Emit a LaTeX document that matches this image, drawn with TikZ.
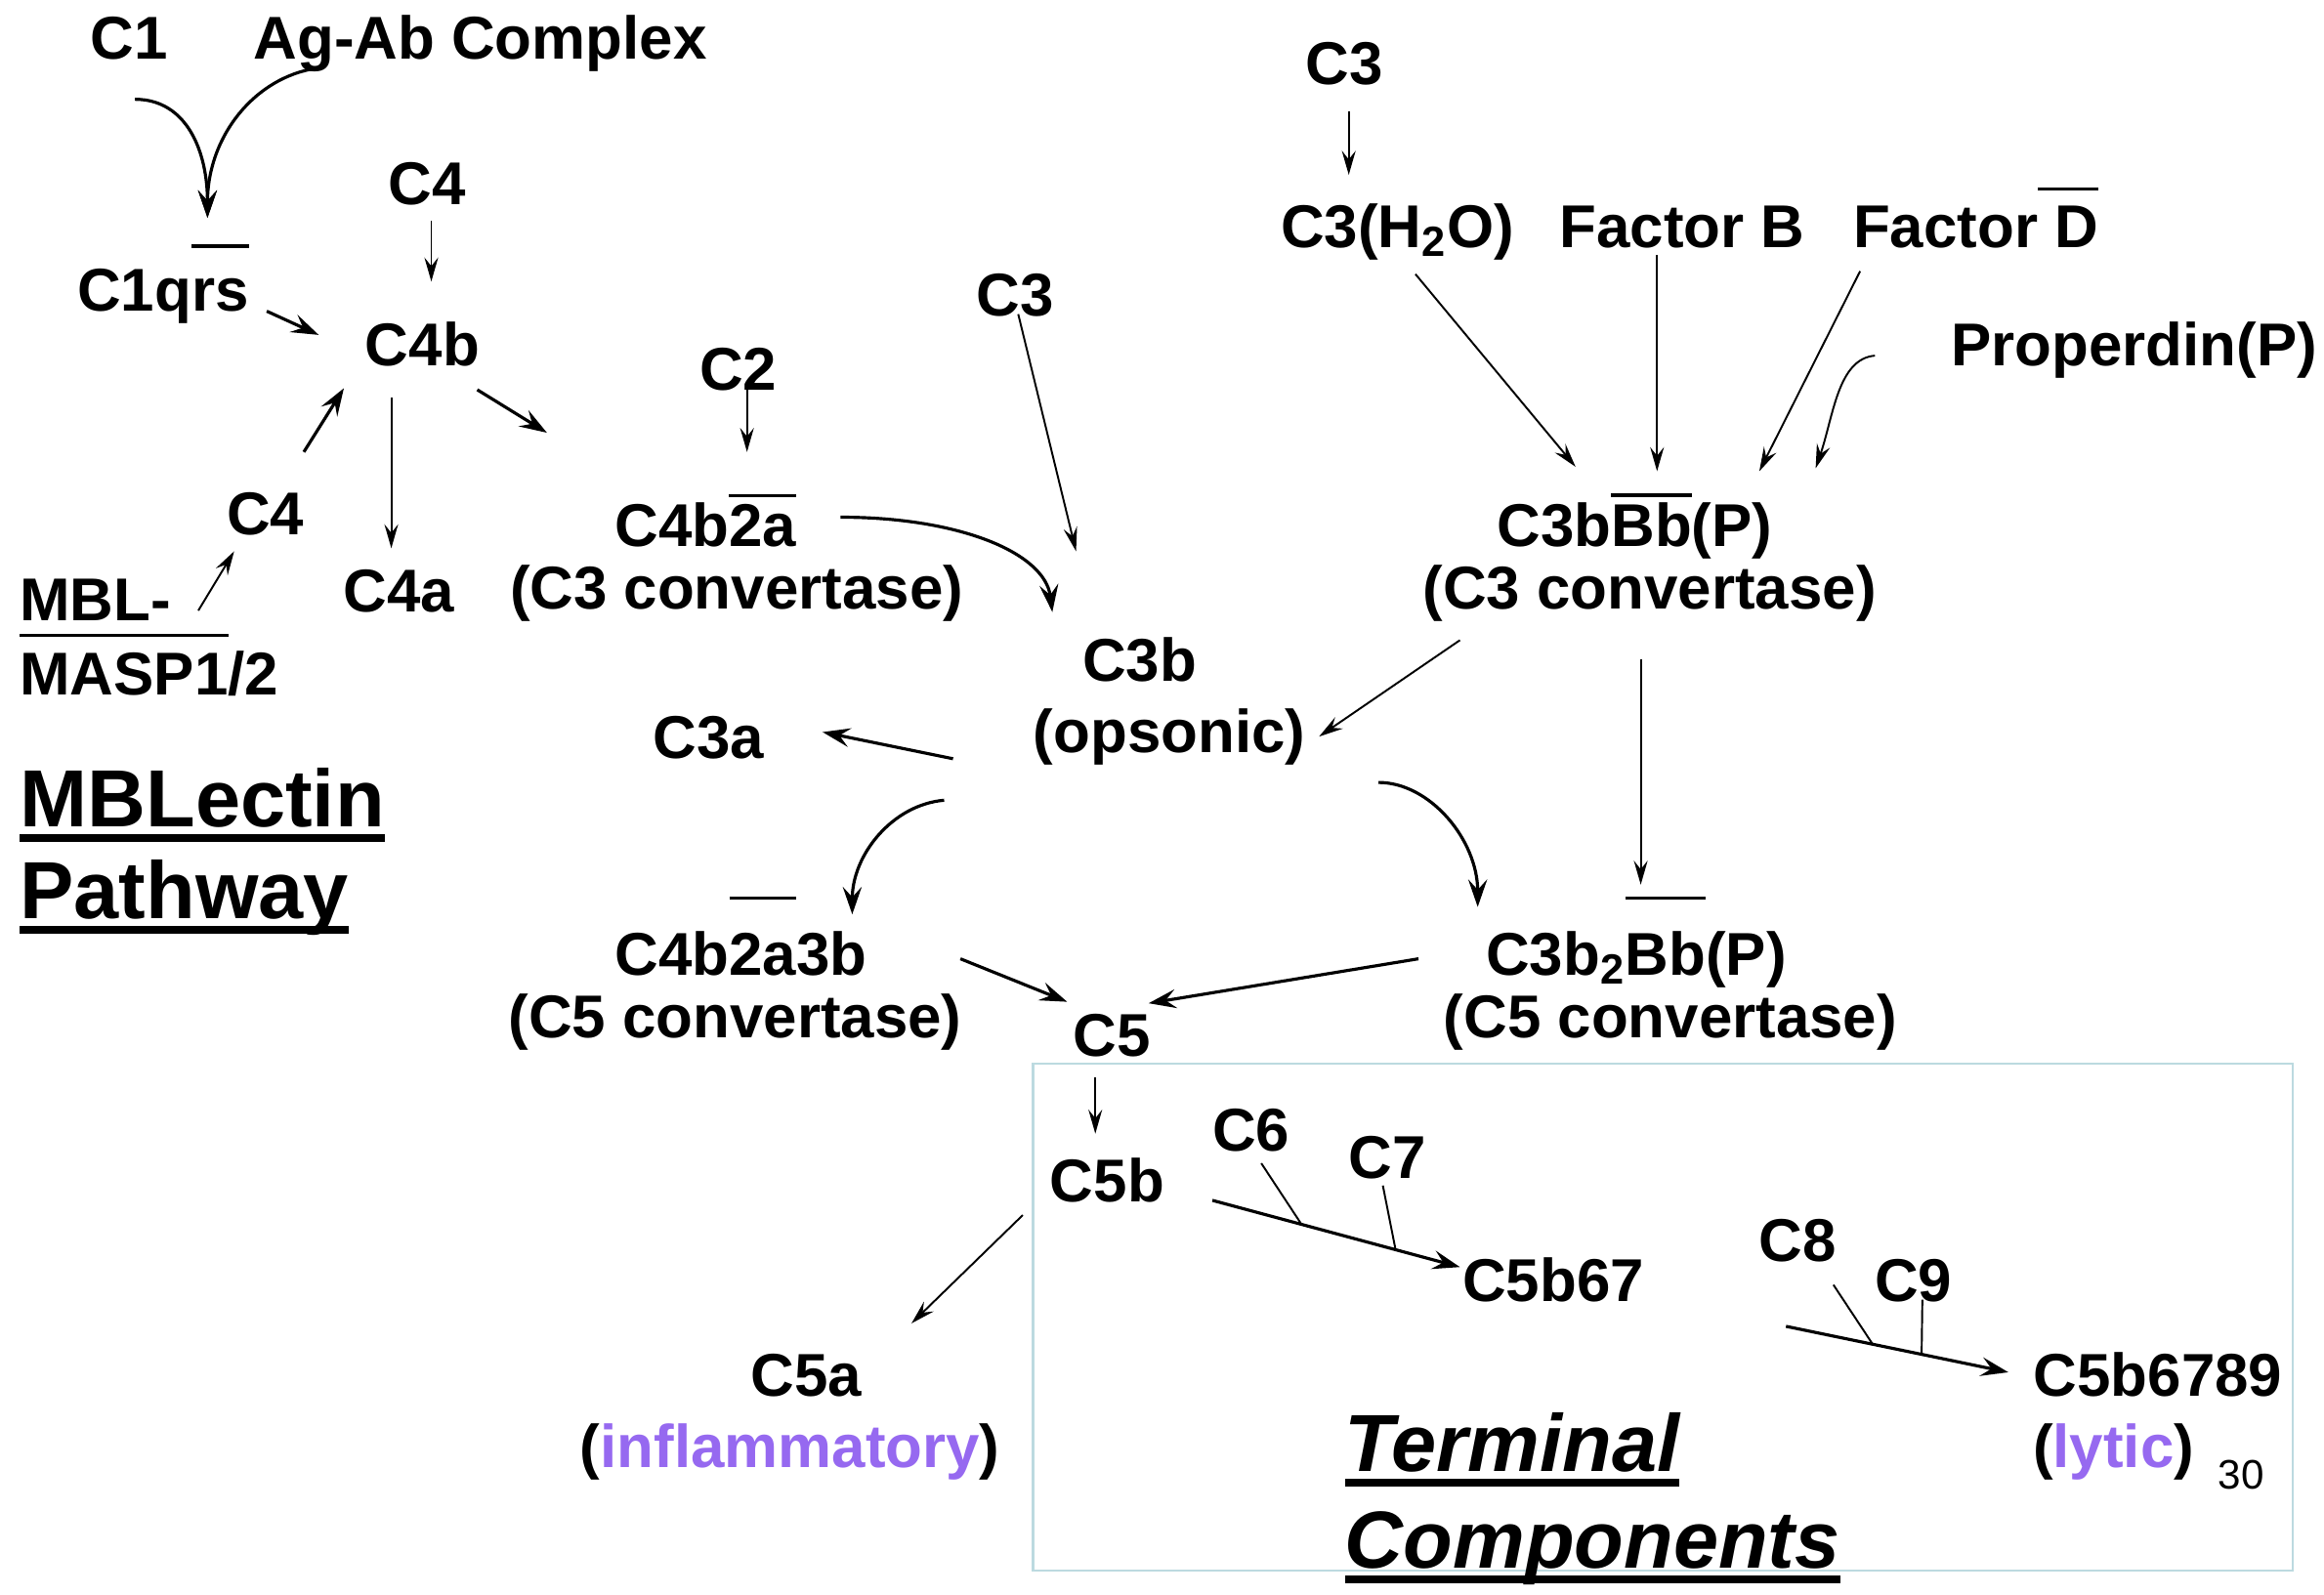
\documentclass[tikz,border=0pt]{standalone}
\usepackage{fontspec}
\setmainfont{Liberation Sans}
\usetikzlibrary{arrows.meta}

\definecolor{lilac}{RGB}{150,105,240}
\definecolor{boxline}{RGB}{188,218,224}

\newsavebox\olbox
% overline raised #1 above the baseline
\newcommand{\olin}[2]{\sbox\olbox{#2}\rlap{\rule[#1]{\wd\olbox}{0.9pt}}\usebox\olbox}
% heavy underline for the headings
\newcommand{\thickul}[1]{\sbox\olbox{#1}\rlap{\rule[-4.4pt]{\wd\olbox}{2.2pt}}\usebox\olbox}

\tikzset{
  lbl/.style={inner sep=0pt, anchor=base, font=\fontsize{17.6}{21}\selectfont\bfseries},
  head/.style={inner sep=0pt, anchor=base west, font=\fontsize{23.6}{28}\selectfont\bfseries},
  headit/.style={head, font=\fontsize{23.6}{28}\selectfont\bfseries\itshape},
  flow/.style={line width=0.55pt, -{Stealth[length=7pt,width=4pt,inset=2.5pt]}},
  flowbold/.style={line width=0.9pt, -{Stealth[length=8pt,width=5.5pt,inset=3pt]}},
  tick/.style={line width=0.55pt}
}

\begin{document}
\begin{tikzpicture}[x=0.15172mm, y=-0.15172mm]
  \useasboundingbox (0,0) rectangle (1568,1076);

  % frame of the terminal components
  \draw[boxline, line width=0.6pt] (697,718) rectangle (1547,1060);

  % classical and lectin start
  \node[lbl] (c1) at (87,40) {C1};
  \node[lbl] (agab) at (324,40) {Ag-Ab Complex};
  \node[lbl] (c1qrs) at (110,210) {C1q\olin{18.5pt}{rs}};
  \node[lbl] (c4top) at (288,138) {C4};
  \node[lbl] (c4b) at (285,247) {C4b};
  \node[lbl] (c4low) at (179,361) {C4};
  \node[lbl, anchor=base west] (mbl) at (13,419) {MBL-};
  \node[lbl, anchor=base west] (masp) at (13,469) {\olin{17pt}{MASP1}/2};
  \node[lbl] (c4a) at (269,413) {C4a};
  \node[lbl] (c2) at (498,263) {C2};
  \node[lbl] (c4b2a) at (476,369) {C4b\olin{14.5pt}{2a}};
  \node[lbl] (conv1) at (497,411) {(C3 convertase)};
  \node[lbl] (c3mid) at (685,213) {C3};
  \node[head] (mblectin) at (13,558) {\thickul{MBLectin}};
  \node[head] (pathway) at (13,620) {\thickul{Pathway}};

  % C3b and the C5 convertases
  \node[lbl] (c3b) at (769,460) {C3b};
  \node[lbl] (opso) at (789,508) {(opsonic)};
  \node[lbl] (c3a) at (478,512) {C3a};
  \node[lbl] (c4b2a3b) at (500,658) {C4b\olin{22pt}{2a}3b};
  \node[lbl] (conv2) at (496,700) {(C5 convertase)};
  \node[lbl] (c5) at (750,713) {C5};
  \node[lbl] (c3b2bb) at (1104,658) {C3b\textsubscript{2}\olin{22pt}{Bb}(P)};
  \node[lbl] (conv3) at (1127,700) {(C5 convertase)};

  % alternative side
  \node[lbl] (c3top) at (907,57) {C3};
  \node[lbl] (c3h2o) at (943,167) {C3(H\textsubscript{2}O)};
  \node[lbl] (facb) at (1135,167) {Factor B};
  \node[lbl] (facd) at (1333,167) {Factor\olin{16.5pt}{ D}};
  \node[lbl] (prop) at (1440,247) {Properdin(P)};
  \node[lbl] (c3bbb) at (1103,369) {C3b\olin{14.6pt}{Bb}(P)};
  \node[lbl] (conv4) at (1113,411) {(C3 convertase)};

  % terminal part
  \node[lbl] (c5b) at (747,811) {C5b};
  \node[lbl] (c6) at (844,777) {C6};
  \node[lbl] (c7) at (936,795) {C7};
  \node[lbl] (c5b67) at (1048,878) {C5b67};
  \node[lbl] (c8) at (1213,851) {C8};
  \node[lbl] (c9) at (1291,878) {C9};
  \node[lbl] (c5b6789) at (1456,942) {C5b6789};
  \node[lbl] (lytic) at (1426,990) {(\textcolor{lilac}{lytic})};
  \node[lbl] (c5a) at (544,942) {C5a};
  \node[lbl] (infl) at (533,990) {(\textcolor{lilac}{inflammatory})};
  \node[headit] (terminal) at (907,993) {\thickul{Terminal}};
  \node[headit] (components) at (907,1058) {\thickul{Components}};
  \node[inner sep=0pt, anchor=base, font=\fontsize{12}{14}\selectfont] (pgnum) at (1512,1005) {30};

  % arrows, left part
  \draw[flowbold] ([shift={(4,27)}]c1.base) .. controls +(35,0) and +(0,-45) .. ([shift={(30,-63)}]c1qrs.base);
  \draw[flowbold] ([shift={(-110,6)}]agab.base) .. controls +(-42,6) and +(0,-55) .. ([shift={(30,-63)}]c1qrs.base);
  \draw[flow] ([shift={(3,11)}]c4top.base) -- ([shift={(6,-57)}]c4b.base);
  \draw[flowbold] ([shift={(70,0)}]c1qrs.base) -- ([shift={(-70,-21)}]c4b.base);
  \draw[flowbold] ([shift={(26,-56)}]c4low.base) -- ([shift={(-53,15)}]c4b.base);
  \draw[flow] ([shift={(18,-7)}]mbl.base east) -- ([shift={(-21,11)}]c4low.base);
  \draw[flow] ([shift={(-21,21)}]c4b.base) -- ([shift={(-5,-43)}]c4a.base);
  \draw[flowbold] ([shift={(37,16)}]c4b.base) -- ([shift={(-107,-77)}]c4b2a.base);
  \draw[flow] ([shift={(6,-1)}]c2.base) -- ([shift={(28,-64)}]c4b2a.base);
  \draw[flowbold] ([shift={(91,-20)}]c4b2a.base) .. controls +(80,0) and +(-5,-40) .. ([shift={(-59,-47)}]c3b.base);
  \draw[flow] ([shift={(2,-1)}]c3mid.base) -- ([shift={(-43,-88)}]c3b.base);

  % arrows round C3b
  \draw[flowbold] ([shift={(-146,4)}]opso.base) -- ([shift={(77,-18)}]c3a.base);
  \draw[flow] ([shift={(-128,21)}]conv4.base) -- ([shift={(101,-11)}]opso.base);
  \draw[flow] ([shift={(-6,34)}]conv4.base) -- ([shift={(3,-61)}]c3b2bb.base);
  \draw[flowbold] ([shift={(-152,32)}]opso.base) .. controls +(-35,3) and +(0,-40) .. ([shift={(75,-41)}]c4b2a3b.base);
  \draw[flowbold] ([shift={(141,20)}]opso.base) .. controls +(35,0) and +(0,-45) .. ([shift={(-107,-46)}]c3b2bb.base);
  \draw[flowbold] ([shift={(148,-11)}]c4b2a3b.base) -- ([shift={(-30,-37)}]c5.base);
  \draw[flowbold] ([shift={(-147,-11)}]c3b2bb.base) -- ([shift={(25,-36)}]c5.base);

  % arrows, alternative part
  \draw[flow] ([shift={(3,18)}]c3top.base) -- ([shift={(-33,-49)}]c3h2o.base);
  \draw[flow] ([shift={(12,18)}]c3h2o.base) -- ([shift={(-40,-54)}]c3bbb.base);
  \draw[flow] ([shift={(-17,5)}]facb.base) -- ([shift={(15,-51)}]c3bbb.base);
  \draw[flow] ([shift={(-78,16)}]facd.base) -- ([shift={(84,-51)}]c3bbb.base);
  \draw[flow] ([shift={(-175,-7)}]prop.base) .. controls +(-25,2) and +(12,-35) .. ([shift={(122,-53)}]c3bbb.base);

  % arrows, terminal part
  \draw[flow] ([shift={(-11,14)}]c5.base) -- ([shift={(-8,-46)}]c5b.base);
  \draw[flow] ([shift={(-57,9)}]c5b.base) -- ([shift={(71,-49)}]c5a.base);
  \draw[flowbold] ([shift={(71,-1)}]c5b.base) -- coordinate[pos=0.36] (j6) coordinate[pos=0.74] (j7) ([shift={(-63,-23)}]c5b67.base);
  \draw[tick] ([shift={(7,8)}]c6.base) -- (j6);
  \draw[tick] ([shift={(-3,5)}]c7.base) -- (j7);
  \draw[flowbold] ([shift={(157,17)}]c5b67.base) -- coordinate[pos=0.39] (j8) coordinate[pos=0.61] (j9) ([shift={(-101,-16)}]c5b6789.base);
  \draw[tick] ([shift={(24,16)}]c8.base) -- (j8);
  \draw[tick] ([shift={(6,-1)}]c9.base) -- (j9);
\end{tikzpicture}
\end{document}
